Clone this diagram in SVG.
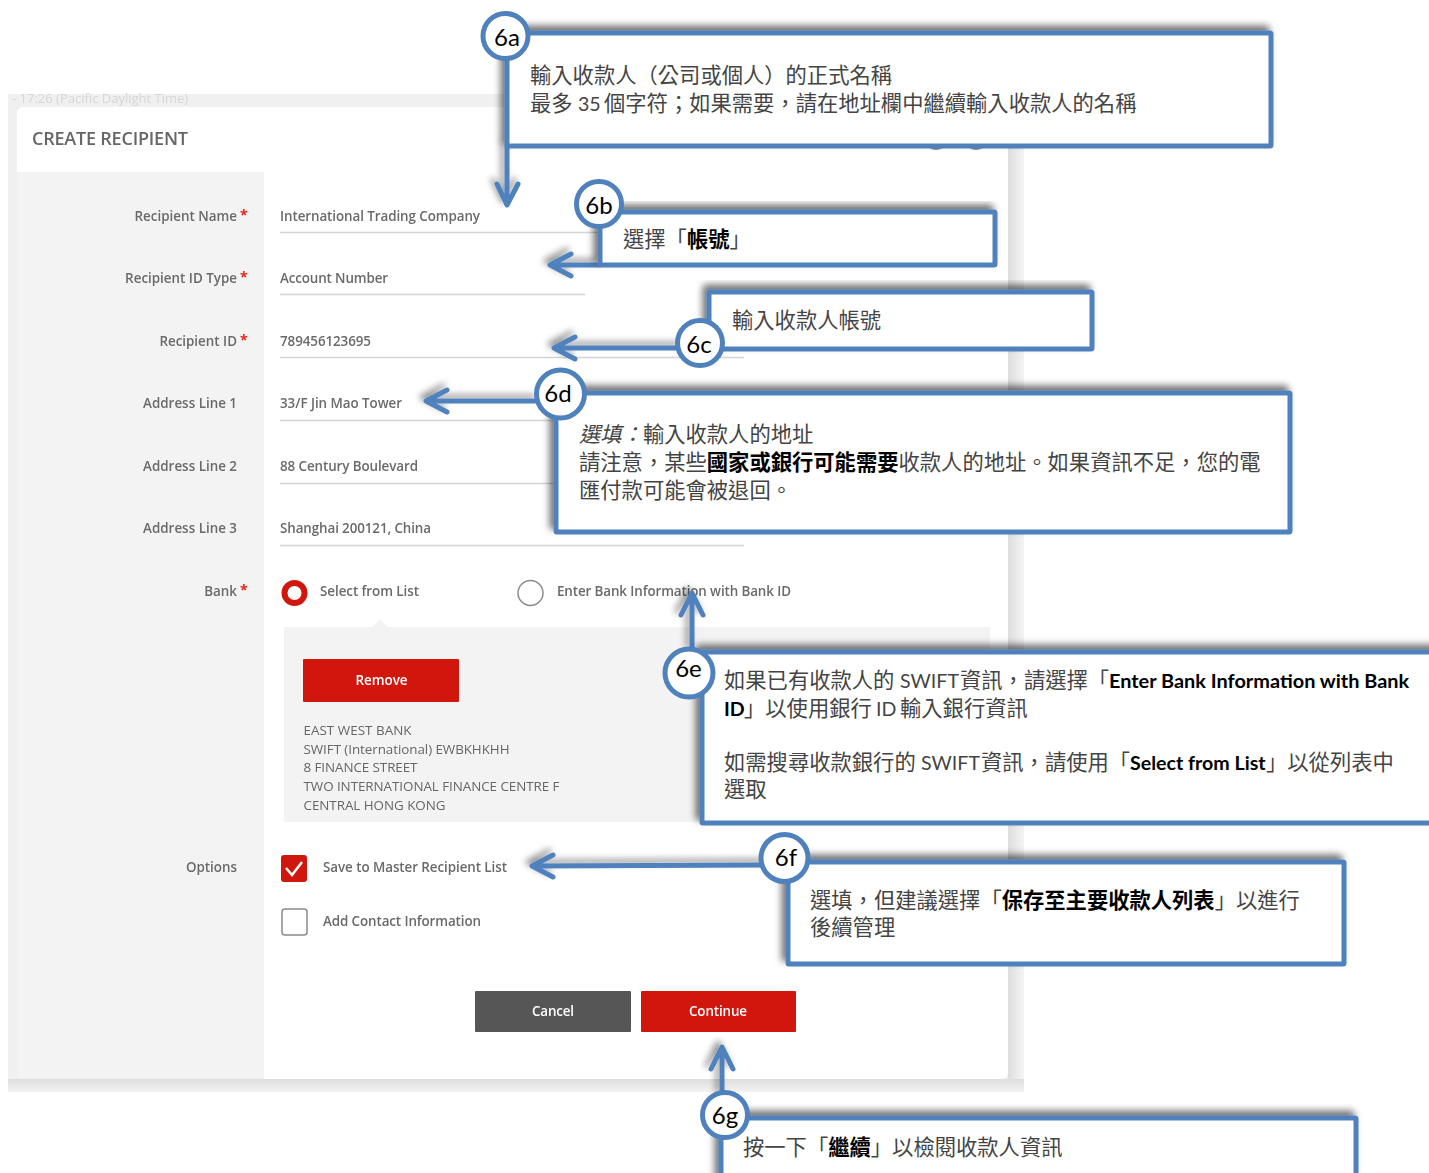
<svg xmlns="http://www.w3.org/2000/svg" width="1429" height="1173" viewBox="0 0 1429 1173">
<style>
.ui{font-family:"Open Sans","Noto Sans",sans-serif;font-size:13.4px;fill:#6a6a6a;font-weight:600}
.lab{text-anchor:end}
.bank{font-size:13.4px;font-weight:400;fill:#666}
.btn{fill:#fff;text-anchor:middle}
.rule{stroke:#d4d4d4;stroke-width:1.5;fill:none}
.star{fill:#e2231a;font-family:"Open Sans",sans-serif;font-size:14px;font-weight:700}
.box{fill:#fff;stroke:#4f81bd;stroke-width:5;stroke-linejoin:round;filter:url(#sh)}
.cir{fill:#fff;stroke:#4f81bd;stroke-width:5}
.conn{fill:none;stroke:#4f81bd;stroke-width:5;stroke-linecap:round;stroke-linejoin:round;filter:url(#sh2)}
.t{font-family:Lato,"Noto Sans CJK TC",sans-serif;font-size:21.3px;fill:#444}
.b{font-weight:700;fill:#000}
.l{font-size:19.6px}
.n{font-family:Lato,"Noto Sans",sans-serif;font-size:24px;fill:#000;text-anchor:middle}
</style>
<defs>
<filter id="sh" x="-10%" y="-20%" width="120%" height="140%"><feDropShadow dx="-4" dy="-5" stdDeviation="3.5" flood-color="#000" flood-opacity=".55"/></filter>
<filter id="sh2" x="-60%" y="-60%" width="220%" height="220%"><feDropShadow dx="-4" dy="-4" stdDeviation="3" flood-color="#000" flood-opacity=".4"/></filter>
<filter id="soft" x="0" y="0" width="100%" height="100%"><feGaussianBlur stdDeviation=".6"/></filter>
<linearGradient id="edge" x1="0" x2="1" y1="0" y2="0"><stop offset="0" stop-color="#dedede"/><stop offset="1" stop-color="#f4f4f4"/></linearGradient>
<linearGradient id="edgeb" x1="0" x2="0" y1="0" y2="1"><stop offset="0" stop-color="#dedede"/><stop offset="1" stop-color="#f2f2f2"/></linearGradient>
</defs>
<rect width="1429" height="1173" fill="#fff"/>
<g id="screenshot" filter="url(#soft)">
<rect x="8" y="94" width="1016" height="998" fill="#f0f0f0"/>
<rect x="1008" y="94" width="16" height="998" fill="url(#edge)"/>
<rect x="8" y="1079" width="1016" height="13" fill="url(#edgeb)"/>
<text x="12" y="103" font-family="Open Sans,sans-serif" font-size="13px" fill="#d6d6d6">- 17:26 (Pacific Daylight Time)</text>
<rect x="17" y="107" width="991" height="972" rx="6" fill="#fff"/>
<path d="M17 172H264V1079H23a6 6 0 0 1-6-6Z" fill="#f3f3f3"/>
<circle cx="936" cy="139" r="10" fill="none" stroke="#888" stroke-width="2"/>
<circle cx="976" cy="139" r="10" fill="none" stroke="#888" stroke-width="2"/>
<text x="32" y="145" class="ui" style="font-size:18px;fill:#666" textLength="156">CREATE RECIPIENT</text>
<text class="ui lab" x="237" y="221">Recipient Name</text><text class="star" x="240" y="220">*</text>
<text class="ui lab" x="237" y="283">Recipient ID Type</text><text class="star" x="240" y="282">*</text>
<text class="ui lab" x="237" y="346">Recipient ID</text><text class="star" x="240" y="345">*</text>
<text class="ui lab" x="237" y="408">Address Line 1</text>
<text class="ui lab" x="237" y="471">Address Line 2</text>
<text class="ui lab" x="237" y="533">Address Line 3</text>
<text class="ui lab" x="237" y="596">Bank</text><text class="star" x="240" y="595">*</text>
<text class="ui lab" x="237" y="872">Options</text>
<text class="ui" x="280" y="221" textLength="200">International Trading Company</text>
<text class="ui" x="280" y="283" textLength="108">Account Number</text>
<text class="ui" x="280" y="346" textLength="91">789456123695</text>
<text class="ui" x="280" y="408" textLength="122">33/F Jin Mao Tower</text>
<text class="ui" x="280" y="471" textLength="138">88 Century Boulevard</text>
<text class="ui" x="280" y="533" textLength="151">Shanghai 200121, China</text>
<path class="rule" d="M280 232.500H744M280 294.500H585M280 357.500H744M280 420.500H744M280 483.500H744M280 545.500H744"/>
<circle cx="294.500" cy="593" r="10" fill="#fff" stroke="#d0190f" stroke-width="6"/>
<text class="ui" x="320" y="596" textLength="99">Select from List</text>
<circle cx="530.500" cy="593" r="12.500" fill="#fff" stroke="#8a8a8a" stroke-width="1.500"/>
<text class="ui" x="557" y="596" textLength="234">Enter Bank Information with Bank ID</text>
<path d="M284 627H372L380 619L388 627H990V822H284Z" fill="#f3f3f3"/>
<rect x="303" y="659" width="156" height="43" rx="1" fill="#d0190f"/>
<text class="ui btn" x="381.500" y="685" textLength="52">Remove</text>
<text class="ui bank" x="303.500" y="735" textLength="108">EAST WEST BANK</text>
<text class="ui bank" x="303.500" y="754" textLength="206">SWIFT (International) EWBKHKHH</text>
<text class="ui bank" x="303.500" y="772" textLength="114">8 FINANCE STREET</text>
<text class="ui bank" x="303.500" y="791" textLength="256">TWO INTERNATIONAL FINANCE CENTRE F</text>
<text class="ui bank" x="303.500" y="810" textLength="142">CENTRAL HONG KONG</text>
<rect x="281" y="855" width="26" height="27" rx="3" fill="#d0190f"/>
<path d="M286 868L292 875L302 862" fill="none" stroke="#fff" stroke-width="2.500"/>
<text class="ui" x="323" y="872" textLength="184">Save to Master Recipient List</text>
<rect x="282" y="909" width="25" height="26" rx="3" fill="#fff" stroke="#8a8a8a" stroke-width="1.500"/>
<text class="ui" x="323" y="926" textLength="158">Add Contact Information</text>
<rect x="475" y="991" width="156" height="41" rx="1" fill="#575757"/>
<text class="ui btn" x="553" y="1016" textLength="42">Cancel</text>
<rect x="641" y="991" width="155" height="41" rx="1" fill="#d0190f"/>
<text class="ui btn" x="718" y="1016" textLength="58">Continue</text>
</g>
<g id="connectors">
<path class="conn" d="M507 146V204M497 184L507 205L518 184"/>
<path class="conn" d="M600 265H551M571 254L550 265L571 276"/>
<path class="conn" d="M680 348H555M575 337L554 348L575 359"/>
<path class="conn" d="M537 401H427M447 390L426 401L447 412"/>
<path class="conn" d="M692 650V594M681 615L692 593L703 615"/>
<path class="conn" d="M765 865L532 866M553 855L532 866L553 877"/>
<path class="conn" d="M722 1095V1048M711 1069L722 1047L733 1069"/>
</g>
<g id="node-6a"><rect class="box" x="507" y="33" width="764" height="113" rx="1"/><circle class="cir" cx="505.500" cy="36" r="22.500"/><text class="n" x="507" y="46">6a</text>
<text class="t" x="530" y="83">輸入收款人（公司或個人）的正式名稱</text>
<text class="t" x="530" y="111">最多 <tspan class="l" x="578">35 </tspan><tspan x="604">個字符；如果需要，請在地址欄中繼續輸入收款人的名稱</tspan></text></g>
<g id="node-6b"><rect class="box" x="600" y="212" width="395" height="53" rx="1"/><circle class="cir" cx="599" cy="204" r="22.500"/><text class="n" x="599" y="214">6b</text>
<text class="t" x="623" y="247">選擇「<tspan class="b">帳號</tspan>」</text></g>
<g id="node-6c"><rect class="box" x="709" y="292" width="383" height="57" rx="1"/><circle class="cir" cx="700" cy="343" r="22.500"/><text class="n" x="699" y="353">6c</text>
<text class="t" x="732" y="328">輸入收款人帳號</text></g>
<g id="node-6d"><rect class="box" x="556" y="393" width="734" height="139" rx="1"/><circle class="cir" cx="560.500" cy="394" r="24"/><text class="n" x="558" y="402">6d</text>
<text class="t" x="579" y="442"><tspan font-style="italic">選填：</tspan>輸入收款人的地址</text>
<text class="t" x="579" y="470">請注意，某些<tspan class="b">國家或銀行可能需要</tspan>收款人的地址。如果資訊不足，您的電</text>
<text class="t" x="579" y="498">匯付款可能會被退回。</text></g>
<g id="node-6e"><rect class="box" x="702" y="652" width="740" height="171" rx="1"/><circle class="cir" cx="689" cy="673" r="24"/><text class="n" x="688.500" y="677">6e</text>
<text class="t" x="724" y="688">如果已有收款人的 <tspan class="l" x="900">SWIFT </tspan><tspan x="960">資訊，請選擇「</tspan><tspan class="b" style="font-size:19.9px" x="1109">Enter Bank Information with Bank</tspan></text>
<text class="t" x="724" y="716"><tspan class="b l">ID</tspan><tspan x="744">」以使用銀行 </tspan><tspan class="l" x="876">ID </tspan><tspan x="900">輸入銀行資訊</tspan></text>
<text class="t" x="724" y="770">如需搜尋收款銀行的 <tspan class="l" x="921">SWIFT </tspan><tspan x="981">資訊，請使用「</tspan><tspan class="b l" x="1130">Select from List</tspan><tspan x="1266">」以從列表中</tspan></text>
<text class="t" x="724" y="797">選取</text></g>
<g id="node-6f"><rect class="box" x="788" y="862" width="556" height="102" rx="1"/><circle class="cir" cx="784.500" cy="858" r="23.500"/><text class="n" x="786" y="866">6f</text>
<text class="t" x="810" y="908">選填，但建議選擇「<tspan class="b">保存至主要收款人列表</tspan>」以進行</text>
<text class="t" x="810" y="935">後續管理</text></g>
<g id="node-6g"><rect class="box" x="721" y="1118" width="635" height="70" rx="1"/><circle class="cir" cx="725" cy="1115" r="22.500"/><text class="n" x="725" y="1124">6g</text>
<text class="t" x="743" y="1155">按一下「<tspan class="b">繼續</tspan>」以檢閱收款人資訊</text></g>
</svg>
